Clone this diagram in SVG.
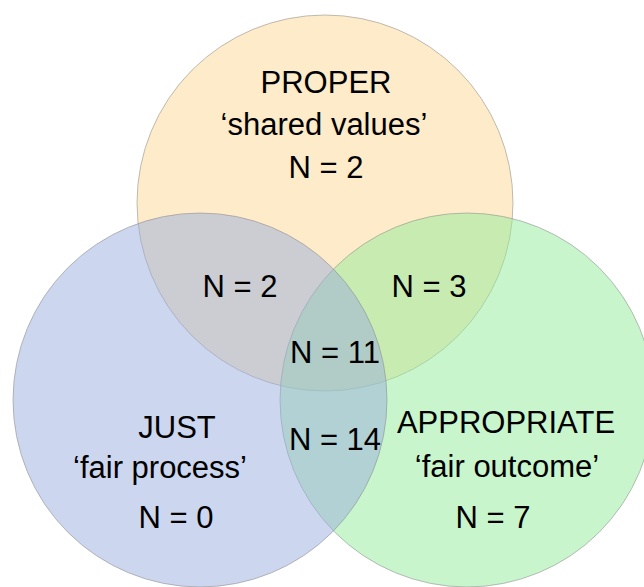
<svg xmlns="http://www.w3.org/2000/svg" width="644" height="587" viewBox="0 0 644 587">
  <style>
    .set { fill-opacity: 0.5; stroke: #8a8a8a; stroke-opacity: 0.55; stroke-width: 1; }
    .lbl { font-family: "Liberation Sans", Arial, sans-serif; font-size: 31px; fill: #000; text-anchor: middle; }
  </style>
  <rect width="644" height="587" fill="#ffffff"/>

  <!-- Three overlapping sets -->
  <g id="proper">
    <circle class="set" cx="325" cy="203" r="188" fill="#FDD793"/>
  </g>
  <g id="appropriate">
    <circle class="set" cx="467" cy="400" r="187" fill="#91EB99"/>
  </g>
  <g id="just">
    <circle class="set" cx="200" cy="400" r="187" fill="#99ADDD"/>
  </g>

  <!-- Set labels -->
  <g id="proper-label">
    <text class="lbl" x="326" y="93">PROPER</text>
    <text class="lbl" x="324" y="135">‘shared values’</text>
    <text class="lbl" x="326" y="178">N = 2</text>
  </g>
  <g id="just-label">
    <text class="lbl" x="177" y="438">JUST</text>
    <text class="lbl" x="160" y="478">‘fair process’</text>
    <text class="lbl" x="176" y="528">N = 0</text>
  </g>
  <g id="appropriate-label">
    <text class="lbl" x="506" y="433">APPROPRIATE</text>
    <text class="lbl" x="507" y="477">‘fair outcome’</text>
    <text class="lbl" x="493" y="528">N = 7</text>
  </g>

  <!-- Intersection counts -->
  <g id="proper-just">
    <text class="lbl" x="240" y="297">N = 2</text>
  </g>
  <g id="proper-appropriate">
    <text class="lbl" x="429" y="297">N = 3</text>
  </g>
  <g id="all-three">
    <text class="lbl" x="335" y="363">N = 11</text>
  </g>
  <g id="just-appropriate">
    <text class="lbl" x="335" y="450">N = 14</text>
  </g>
</svg>
